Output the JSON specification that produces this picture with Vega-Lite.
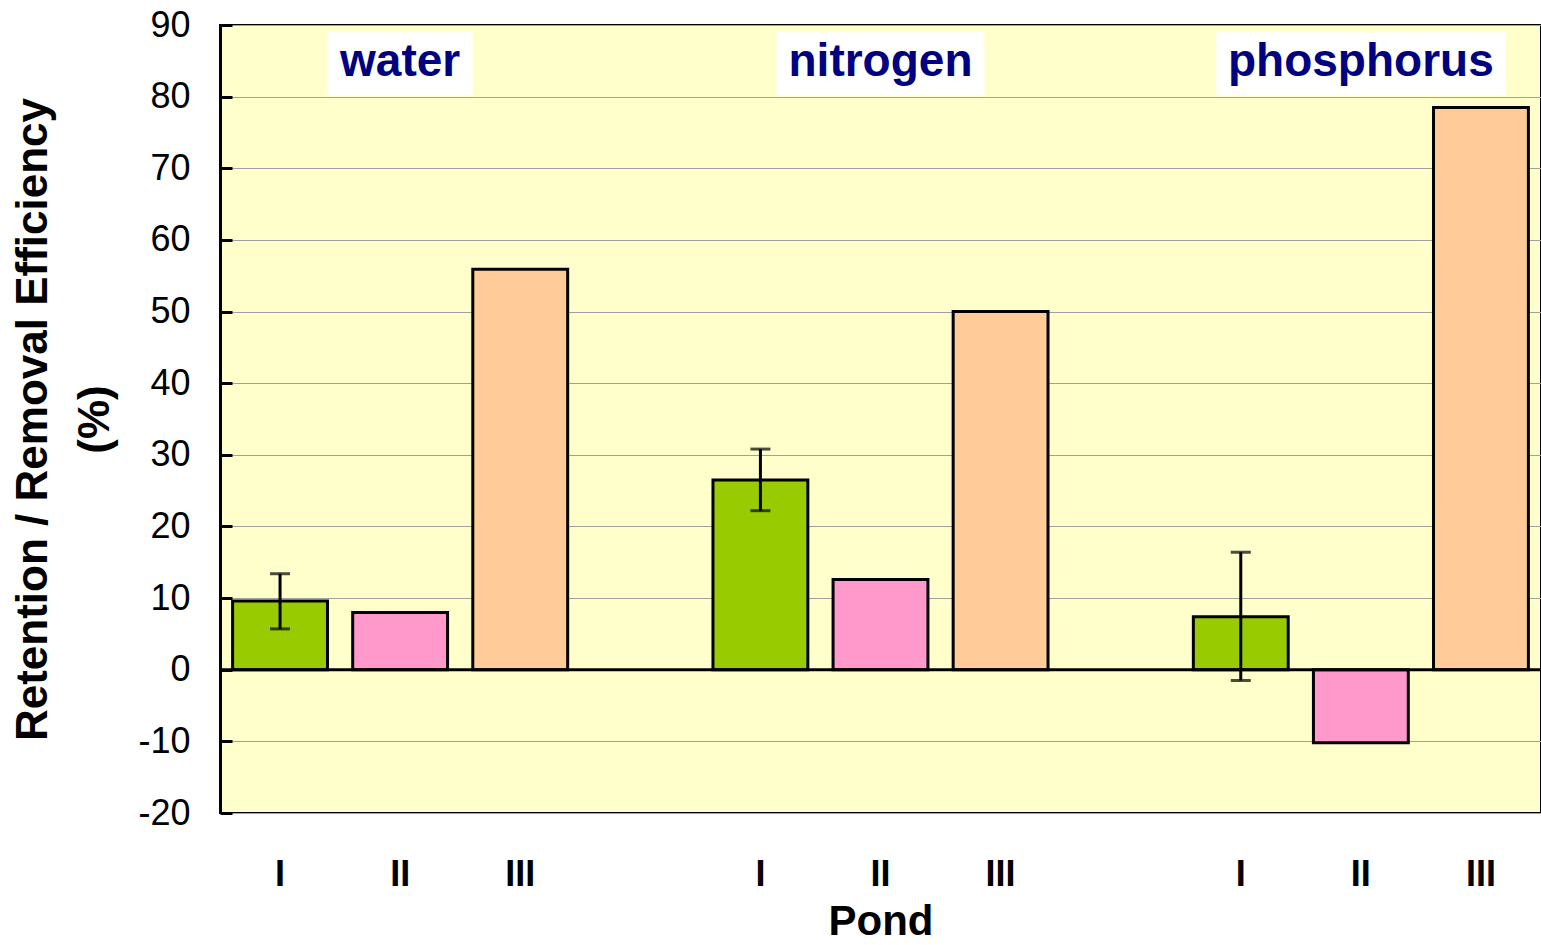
{
  "$schema": "https://vega.github.io/schema/vega-lite/v6.json",
  "width": 1321,
  "height": 788,
  "autosize": {"type": "none"},
  "padding": {"left": 220, "top": 25, "right": 0, "bottom": 132},
  "background": "white",
  "config": {
    "view": {"fill": "#FFFFCC", "stroke": "black", "strokeWidth": 2},
    "font": "Liberation Sans"
  },
  "datasets": {
    "bars": [
      {"slot": "water|I", "group": "water", "pond": "I", "value": 9.6, "lo": 5.7, "hi": 13.4},
      {"slot": "water|II", "group": "water", "pond": "II", "value": 8.0},
      {"slot": "water|III", "group": "water", "pond": "III", "value": 55.9},
      {"slot": "nitrogen|I", "group": "nitrogen", "pond": "I", "value": 26.5, "lo": 22.2, "hi": 30.8},
      {"slot": "nitrogen|II", "group": "nitrogen", "pond": "II", "value": 12.6},
      {"slot": "nitrogen|III", "group": "nitrogen", "pond": "III", "value": 50.0},
      {"slot": "phosphorus|I", "group": "phosphorus", "pond": "I", "value": 7.4, "lo": -1.5, "hi": 16.4},
      {"slot": "phosphorus|II", "group": "phosphorus", "pond": "II", "value": -10.2},
      {"slot": "phosphorus|III", "group": "phosphorus", "pond": "III", "value": 78.5}
    ],
    "labels": [
      {"slot": "water|II", "group": "water"},
      {"slot": "nitrogen|II", "group": "nitrogen"},
      {"slot": "phosphorus|II", "group": "phosphorus"}
    ],
    "zero": [{"v": 0}]
  },
  "layer": [
    {
      "data": {"name": "labels"},
      "mark": {"type": "bar", "fill": "white", "strokeWidth": 0},
      "encoding": {
        "x": {
          "field": "slot",
          "type": "nominal",
          "scale": {
            "domain": ["water|I", "water|II", "water|III", "gap1", "nitrogen|I", "nitrogen|II", "nitrogen|III", "gap2", "phosphorus|I", "phosphorus|II", "phosphorus|III"],
            "paddingInner": 0.21,
            "paddingOuter": 0.105
          },
          "axis": {
            "title": "Pond",
            "labelExpr": "indexof(datum.value, '|') >= 0 ? split(datum.value, '|')[1] : ''",
            "labelAngle": 0,
            "labelFont": "Liberation Sans",
            "labelFontWeight": "bold",
            "labelFontSize": 36,
            "labelColor": "black",
            "labelPadding": 44,
            "ticks": false,
            "domain": false,
            "titleFont": "Liberation Sans",
            "titleFontWeight": "bold",
            "titleFontSize": 42,
            "titleColor": "black",
            "titlePadding": 9
          }
        },
        "size": {"field": "group", "type": "nominal", "scale": {"type": "ordinal", "domain": ["water", "nitrogen", "phosphorus"], "range": [145, 208, 289]}, "legend": null},
        "y": {"datum": 89, "type": "quantitative"},
        "y2": {"datum": 80.2}
      }
    },
    {
      "data": {"name": "labels"},
      "mark": {"type": "text", "font": "Liberation Sans", "fontWeight": "bold", "fontSize": 46, "color": "#000080", "baseline": "alphabetic", "align": "center"},
      "encoding": {
        "x": {"field": "slot", "type": "nominal"},
        "y": {"datum": 82.9, "type": "quantitative"},
        "text": {"field": "group"}
      }
    },
    {
      "data": {"name": "bars"},
      "mark": {"type": "bar", "stroke": "black", "strokeWidth": 3},
      "encoding": {
        "x": {"field": "slot", "type": "nominal"},
        "y": {
          "field": "value",
          "type": "quantitative",
          "scale": {"domain": [-20, 90], "nice": false, "zero": false},
          "axis": {
            "values": [-20, -10, 0, 10, 20, 30, 40, 50, 60, 70, 80, 90],
            "labelExpr": "datum.value + ''",
            "title": ["Retention / Removal Efficiency", "(%)"],
            "titleFont": "Liberation Sans",
            "titleFontWeight": "bold",
            "titleFontSize": 44,
            "titleLineHeight": 62,
            "titleColor": "black",
            "titlePadding": 20,
            "labelFont": "Liberation Sans",
            "labelFontSize": 36,
            "labelColor": "black",
            "labelPadding": 42,
            "tickSize": -12,
            "tickColor": "black",
            "tickWidth": 3,
            "domainColor": "black",
            "domainWidth": 3,
            "grid": true,
            "gridColor": "#A0A0A0",
            "gridWidth": 1
          }
        },
        "y2": {"datum": 0},
        "color": {"field": "pond", "type": "nominal", "scale": {"domain": ["I", "II", "III"], "range": ["#99CC00", "#FF99CC", "#FFCC99"]}, "legend": null}
      }
    },
    {
      "data": {"name": "zero"},
      "mark": {"type": "rule", "color": "black", "strokeWidth": 3},
      "encoding": {"y": {"field": "v", "type": "quantitative"}}
    },
    {
      "data": {"name": "bars"},
      "transform": [{"filter": "isValid(datum.lo)"}],
      "mark": {"type": "rule", "color": "black", "strokeWidth": 3},
      "encoding": {
        "x": {"field": "slot", "type": "nominal"},
        "y": {"field": "lo", "type": "quantitative"},
        "y2": {"field": "hi"}
      }
    },
    {
      "data": {"name": "bars"},
      "transform": [{"filter": "isValid(datum.lo)"}],
      "mark": {"type": "tick", "color": "black", "thickness": 3, "size": 20, "orient": "horizontal"},
      "encoding": {
        "x": {"field": "slot", "type": "nominal"},
        "y": {"field": "lo", "type": "quantitative"}
      }
    },
    {
      "data": {"name": "bars"},
      "transform": [{"filter": "isValid(datum.hi)"}],
      "mark": {"type": "tick", "color": "black", "thickness": 3, "size": 20, "orient": "horizontal"},
      "encoding": {
        "x": {"field": "slot", "type": "nominal"},
        "y": {"field": "hi", "type": "quantitative"}
      }
    }
  ]
}
